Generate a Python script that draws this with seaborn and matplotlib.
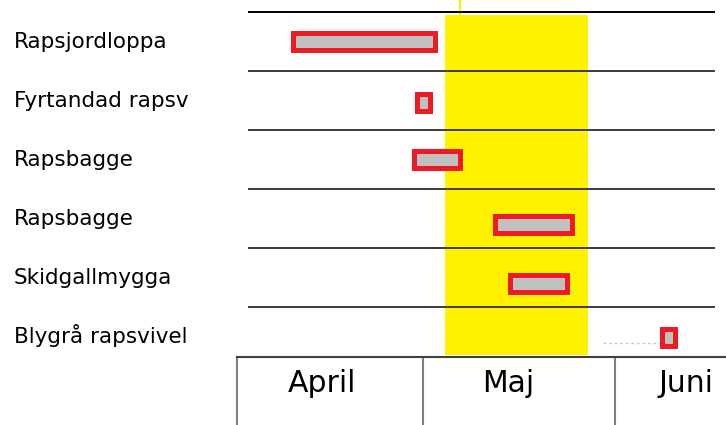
import matplotlib
matplotlib.use("Agg")
import matplotlib.pyplot as plt
import matplotlib.transforms as mtransforms
import seaborn as sns

# Pest activity periods, in days counted from 1 April
pests = ["Rapsjordloppa", "Fyrtandad rapsv", "Rapsbagge", "Rapsbagge",
         "Skidgallmygga", "Blygrå rapsvivel"]
start_day = [9.1, 29.1, 28.6, 41.7, 44.1, 68.5]
end_day = [31.9, 31.2, 36.0, 54.1, 53.3, 70.6]

# dotted lead-in before the last bar
lead_start = 59.0

# months along the bottom
months = ["April", "Maj", "Juni"]
month_start = [0, 30, 61]

# highlighted (flowering) period
yellow_start = 33.5
yellow_end = 56.6

sns.set_theme(style="white")
plt.rcParams['font.family'] = ['DejaVu Sans']

fig = plt.figure(figsize=(7.26, 4.25), dpi=100)
ax = fig.add_axes([237 / 726, 68 / 425, 1 - 237 / 726, 357 / 425])

rows = list(range(len(pests)))
# the hand-drawn bars sit a little off the row centres
bar_nudge = [0, 0.03, 0, 0.1, 0.11, 0.02]
bar_y = [r + n for r, n in zip(rows, bar_nudge)]

# yellow band
ax.axvspan(yellow_start, yellow_end, ymin=0.006, ymax=0.958,
           color="#FFF200", lw=0, zorder=1)
ax.plot([36, 36], [-0.7, -0.45], color="#FFF200", lw=1.5, zorder=1)

# row separators
seps = [r - 0.5 for r in rows]
for i, s in enumerate(seps):
    ax.hlines(s, 1.8, 77.1, color="#000000" if i == 0 else "#3a3a3a",
              lw=1.4, zorder=2)

# bars
widths = [e - s for s, e in zip(start_day, end_day)]
ax.barh(bar_y, widths, left=start_day, height=0.29,
        color="#C0C0C0", edgecolor="#ED1C24", linewidth=3.6, zorder=3)

# dotted lead line for the last row
ax.plot([lead_start, start_day[-1]], [bar_y[-1] + 0.1, bar_y[-1] + 0.1],
        color="#c8c8c8", lw=1, ls=(0, (2, 2)), zorder=2)

# pest labels on the left
trans = mtransforms.blended_transform_factory(fig.transFigure, ax.transData)
for r, name in zip(rows, pests):
    ax.text(14 / 726, r + 0.11, name, transform=trans, ha="left",
            va="baseline", fontsize=15.5, color="#000000")

ax.set_xlim(0, 78.9)
ax.set_ylim(5.35, -0.703)

# month grid at the bottom
ax.set_yticks([])
ax.set_xticks(month_start)
ax.set_xticklabels([])
ax.tick_params(axis="x", direction="out", length=49, width=1.5,
               color="#808080", bottom=True)
label_offset = [8.2, 9.5, 7.0]
for s, off, m in zip(month_start, label_offset, months):
    ax.annotate(m, xy=(s + off, 0), xycoords=("data", "axes fraction"),
                xytext=(0, -25.2), textcoords="offset points",
                ha="left", va="baseline", fontsize=21.5, color="#000000")

for side in ["left", "right", "top"]:
    ax.spines[side].set_visible(False)
ax.spines["bottom"].set_color("#404040")
ax.spines["bottom"].set_linewidth(1.5)

fig.savefig("out.png", dpi=100)
